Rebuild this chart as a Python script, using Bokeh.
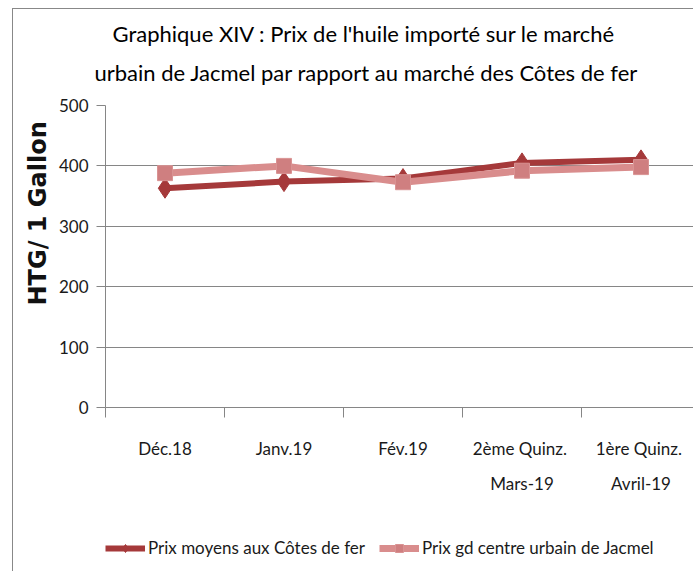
from bokeh.plotting import figure
from bokeh.layouts import column
from bokeh.models import (Range1d, FixedTicker, Title, Legend, LegendItem, ColumnDataSource, LinearAxis)
from bokeh.embed import file_html
from bokeh.resources import INLINE

categories_line1 = ["Déc.18", "Janv.19", "Fév.19", "2ème  Quinz.", "1ère  Quinz."]
categories_line2 = ["", "", "", "Mars-19", "Avril-19"]
cotes_de_fer = [363, 374, 379, 405, 410]
jacmel = [388, 400, 373, 392, 398]
y_ticks = [0, 100, 200, 300, 400, 500]
title_lines = ["Graphique XIV : Prix de l'huile importé sur le marché",
               "urbain de Jacmel par rapport au marché des Côtes de fer"]
y_title = "HTG/ 1 Gallon"
series_names = ["Prix moyens aux Côtes de fer", "Prix gd centre urbain de Jacmel"]

FONT = "Lato"
DARK = "#A5393A"
PINK = "#D98D8D"
SQ_FILL = "#CF7F80"
SQ_LINE = "#D99393"
GRID = "#868686"
TXT = "#1a1a1a"

xs = [i + 0.5 for i in range(len(categories_line1))]
src = ColumnDataSource(dict(x=xs, a=cotes_de_fer, b=jacmel))

p = figure(frame_width=588, frame_height=302, output_backend="svg", toolbar_location=None,
           x_range=Range1d(0, 588 / 119), y_range=Range1d(0, 500),
           min_border_left=92, min_border_right=0, min_border_top=96, min_border_bottom=112)
p.outline_line_color = None
p.background_fill_color = "white"
p.border_fill_color = "white"

# x axis (first line of category labels + boundary ticks)
p.xaxis.ticker = FixedTicker(ticks=xs, minor_ticks=list(range(len(categories_line1) + 1)))
p.xaxis.major_label_overrides = {x: c for x, c in zip(xs, categories_line1)}
p.xaxis.major_tick_line_color = None
p.xaxis.major_tick_out = 0
p.xaxis.major_tick_in = 0
p.xaxis.minor_tick_out = 10
p.xaxis.minor_tick_in = 0
p.xaxis.minor_tick_line_color = GRID
p.xaxis.axis_line_color = GRID
p.xaxis.major_label_standoff = 20
p.xaxis.major_label_text_font = FONT
p.xaxis.major_label_text_font_size = "17px"
p.xaxis.major_label_text_color = TXT
p.xgrid.visible = False

# second line of category labels
ax2 = LinearAxis(ticker=FixedTicker(ticks=xs, minor_ticks=[]),
                 major_label_overrides={x: c for x, c in zip(xs, categories_line2)},
                 axis_line_color=None, major_tick_line_color=None, minor_tick_line_color=None,
                 major_tick_out=0, major_tick_in=0, minor_tick_out=0, minor_tick_in=0,
                 major_label_standoff=11, major_label_text_font=FONT,
                 major_label_text_font_size="17px", major_label_text_color=TXT)
p.add_layout(ax2, "below")

p.yaxis.ticker = FixedTicker(ticks=y_ticks)
p.yaxis.minor_tick_line_color = None
p.yaxis.major_tick_out = 9
p.yaxis.major_tick_in = 0
p.yaxis.major_tick_line_color = GRID
p.yaxis.axis_line_color = GRID
p.yaxis.major_label_text_font = FONT
p.yaxis.major_label_text_font_size = "17px"
p.yaxis.major_label_text_color = TXT
p.yaxis.major_label_standoff = 8
p.ygrid.grid_line_color = GRID
p.ygrid.grid_line_width = 1

p.add_layout(Title(text=y_title, align="left", offset=102, standoff=8,
                   text_font="DejaVu Sans", text_font_size="24px", text_font_style="bold",
                   text_color="#111111"), "left")

p.line("x", "a", source=src, line_color=DARK, line_width=6)
p.scatter("x", "a", source=src, marker="diamond", size=20, fill_color=DARK, line_color=DARK)
p.line("x", "b", source=src, line_color=PINK, line_width=7)
p.scatter("x", "b", source=src, marker="square", size=15, fill_color=SQ_FILL, line_color=SQ_LINE)

p.add_layout(Title(text=title_lines[1], align="left", offset=-11, standoff=40,
                   text_font=FONT, text_font_size="22px", text_font_style="normal",
                   text_color="#000000"), "above")
p.add_layout(Title(text=title_lines[0], align="left", offset=7, standoff=-20,
                   text_font=FONT, text_font_size="22px", text_font_style="normal",
                   text_color="#000000"), "above")

# legend strip below the chart (its frame is aligned with the chart frame by the column)
lf = figure(width=680, height=52, output_backend="svg", toolbar_location=None,
            x_range=Range1d(0, 1), y_range=Range1d(0, 1), min_border=0,
            x_axis_location=None, y_axis_location=None)
lf.grid.visible = False
lf.outline_line_color = None
lf.border_fill_color = "white"
k1 = lf.line("x", "a", source=src, line_color=DARK, line_width=6)
k1m = lf.scatter("x", "a", source=src, marker="diamond", size=20, fill_color=DARK, line_color=DARK)
k2 = lf.line("x", "b", source=src, line_color=PINK, line_width=7)
k2m = lf.scatter("x", "b", source=src, marker="square", size=15, fill_color=SQ_FILL, line_color=SQ_LINE)
legend = Legend(items=[LegendItem(label=series_names[0], renderers=[k1, k1m]),
                       LegendItem(label=series_names[1], renderers=[k2, k2m])],
                orientation="horizontal", location=(0, 13),
                border_line_color=None, background_fill_alpha=0,
                label_text_font=FONT, label_text_font_size="17px",
                label_text_color=TXT, glyph_width=40, spacing=14,
                label_standoff=3, padding=2, margin=0)
lf.add_layout(legend, "center")

layout = column(p, lf, spacing=0)
layout.styles = {"border-left": "1.5px solid #888888", "border-top": "1.5px solid #888888"}
layout.margin = (8, 0, 0, 12)

open("out.html", "w").write(file_html(layout, INLINE))
